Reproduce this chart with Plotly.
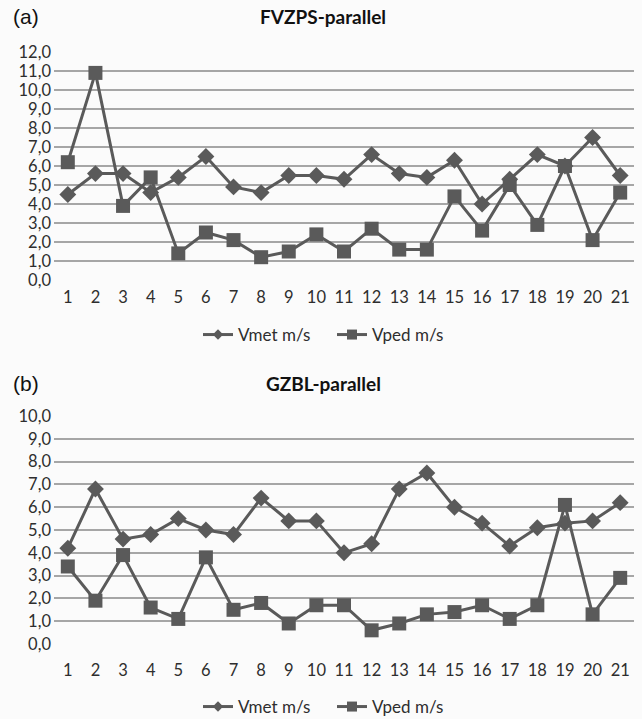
import plotly.graph_objects as go

x_cats = list(range(1, 22))

vmet_a = [4.5, 5.6, 5.6, 4.6, 5.4, 6.5, 4.9, 4.6, 5.5, 5.5, 5.3, 6.6, 5.6, 5.4, 6.3, 4.0, 5.3, 6.6, 6.0, 7.5, 5.5]
vped_a = [6.2, 10.9, 3.9, 5.4, 1.4, 2.5, 2.1, 1.2, 1.5, 2.4, 1.5, 2.7, 1.6, 1.6, 4.4, 2.6, 5.0, 2.9, 6.0, 2.1, 4.6]

vmet_b = [4.2, 6.8, 4.6, 4.8, 5.5, 5.0, 4.8, 6.4, 5.4, 5.4, 4.0, 4.4, 6.8, 7.5, 6.0, 5.3, 4.3, 5.1, 5.3, 5.4, 6.2]
vped_b = [3.4, 1.9, 3.9, 1.6, 1.1, 3.8, 1.5, 1.8, 0.9, 1.7, 1.7, 0.6, 0.9, 1.3, 1.4, 1.7, 1.1, 1.7, 6.1, 1.3, 2.9]

y_ticks_a = [i for i in range(0, 13)]
y_ticks_b = [i for i in range(0, 11)]

series_names = ["Vmet m/s", "Vped m/s"]
titles = ["FVZPS-parallel", "GZBL-parallel"]
panel_labels = ["(a)", "(b)"]

LINE = "#5a5a5a"
GRID = "#a6a6a6"
FONT = "Lato"
TXT = "#2e2e2e"
W, H = 642, 719

def py(px):
    return 1 - px / H

fig = go.Figure()

for i, (vm, vp) in enumerate([(vmet_a, vped_a), (vmet_b, vped_b)]):
    xa = "x" if i == 0 else "x2"
    ya = "y" if i == 0 else "y2"
    lg = "legend" if i == 0 else "legend2"
    fig.add_trace(go.Scatter(x=x_cats, y=vm, mode="lines+markers", name=series_names[0],
                             line=dict(color=LINE, width=3),
                             marker=dict(symbol="diamond", size=13, color=LINE),
                             xaxis=xa, yaxis=ya, showlegend=False))
    fig.add_trace(go.Scatter(x=x_cats, y=vp, mode="lines+markers", name=series_names[1],
                             line=dict(color=LINE, width=3),
                             marker=dict(symbol="square", size=14, color=LINE),
                             xaxis=xa, yaxis=ya, showlegend=False))
    # legend entries (smaller markers like the original legend keys)
    fig.add_trace(go.Scatter(x=[None], y=[None], mode="lines+markers", name=series_names[0],
                             line=dict(color=LINE, width=3),
                             marker=dict(symbol="diamond", size=8, color=LINE),
                             xaxis=xa, yaxis=ya, legend=lg))
    fig.add_trace(go.Scatter(x=[None], y=[None], mode="lines+markers", name=series_names[1],
                             line=dict(color=LINE, width=3),
                             marker=dict(symbol="square", size=10, color=LINE),
                             xaxis=xa, yaxis=ya, legend=lg))

xdom = [54 / W, 634 / W]
common_x = dict(range=[0.5, 21.5], tickvals=x_cats, ticktext=[str(v) for v in x_cats],
                showgrid=False, zeroline=False, showline=False, ticks="", automargin=False,
                tickfont=dict(family=FONT, size=16.5, color=TXT), domain=xdom,
                fixedrange=True)
common_y = dict(showgrid=True, gridcolor=GRID, gridwidth=1.5, zeroline=False, showline=False,
                ticks="", tickformat=".1f", automargin=False, ticklabelstandoff=2,
                tickfont=dict(family=FONT, size=16.5, color=TXT),
                fixedrange=True)

common_leg = dict(orientation="h", x=198 / W, xanchor="left", yanchor="middle",
                  entrywidth=89, entrywidthmode="pixels",
                  font=dict(family=FONT, size=17, color=TXT), bgcolor="rgba(0,0,0,0)")

fig.update_layout(
    template="none",
    width=W, height=H,
    margin=dict(l=0, r=0, t=0, b=0, autoexpand=False),
    paper_bgcolor="#fbfbfb", plot_bgcolor="#fbfbfb",
    separators=",.",
    font=dict(family=FONT, color=TXT),
    xaxis=dict(**common_x, anchor="y", ticklabelstandoff=5),
    yaxis=dict(**common_y, range=[0, 12], tickvals=y_ticks_a, domain=[py(280), py(52)], anchor="x"),
    xaxis2=dict(**common_x, anchor="y2", ticklabelstandoff=14),
    yaxis2=dict(**common_y, range=[0, 10], tickvals=y_ticks_b, domain=[py(644), py(416)], anchor="x2"),
    legend=dict(**common_leg, y=py(335)),
    legend2=dict(**common_leg, y=py(707)),
    showlegend=True,
)

ann = []
for t, lab, ypx in [(titles[0], panel_labels[0], 17), (titles[1], panel_labels[1], 383)]:
    ann.append(dict(text=f"<b>{t}</b>", x=323 / W, y=py(ypx), xref="paper", yref="paper",
                    xanchor="center", yanchor="middle", showarrow=False,
                    font=dict(family=FONT, size=19, color="#111111")))
    ann.append(dict(text=lab, x=11 / W, y=py(ypx), xref="paper", yref="paper",
                    xanchor="left", yanchor="middle", showarrow=False,
                    font=dict(family="Liberation Sans", size=21, color="#111111")))
fig.update_layout(annotations=ann)

fig.write_html("out.html")
